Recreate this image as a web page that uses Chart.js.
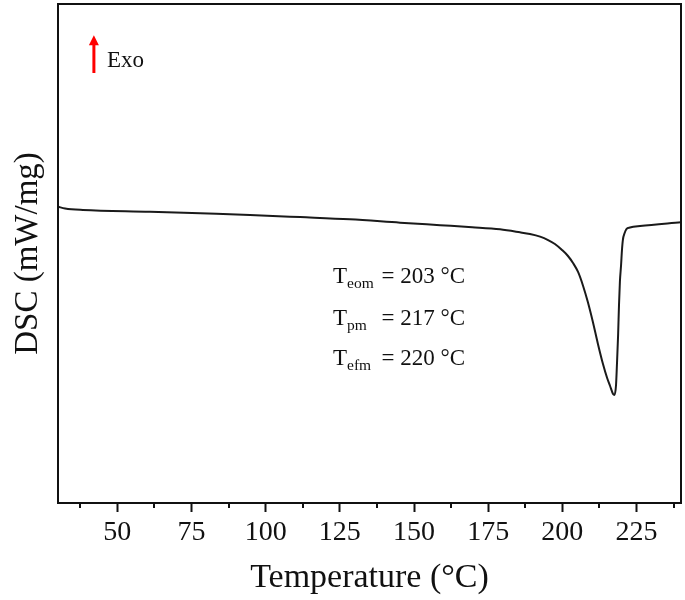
<!DOCTYPE html>
<html>
<head>
<meta charset="utf-8">
<script src="https://cdn.jsdelivr.net/npm/chart.js@4/dist/chart.umd.min.js"></script>
<style>
html,body{margin:0;padding:0;background:#fff;}
#wrap{width:685px;height:600px;}
</style>
</head>
<body>
<div id="wrap"><canvas id="c" width="685" height="600"></canvas></div>
<script>
// Temperature (°C)
const temps = [30, 32.4, 38.4, 61, 77.9, 94.7, 111.6, 128.4, 145.3, 158.8, 169.6, 179, 185.7, 189.1, 192.5, 195.2, 197.5, 199.9, 201.9, 203.6, 205.3, 207.0, 208.6, 210.3, 212.0, 213.7, 215.1, 216.1, 217.1, 217.6, 218.1, 218.4, 218.8, 219.1, 219.4, 219.8, 220.1, 220.4, 221.0, 221.6, 222.8, 226.2, 240];
// DSC heat flow (mW/mg)
const dsc = [-0.625, -0.639, -0.651, -0.665, -0.678, -0.691, -0.708, -0.726, -0.753, -0.773, -0.789, -0.806, -0.830, -0.844, -0.865, -0.892, -0.924, -0.972, -1.020, -1.076, -1.148, -1.260, -1.389, -1.549, -1.725, -1.886, -1.998, -2.062, -2.126, -2.134, -2.054, -1.894, -1.653, -1.413, -1.228, -1.092, -0.972, -0.892, -0.836, -0.804, -0.792, -0.780, -0.750];
const majorTicks = [50, 75, 100, 125, 150, 175, 200, 225];
const minorTicks = [37.5, 62.5, 87.5, 112.5, 137.5, 162.5, 187.5, 212.5, 237.5];
const annotations = [
  {main: 'T', sub: 'eom', rest: '= 203 °C'},
  {main: 'T', sub: 'pm', rest: '= 217 °C'},
  {main: 'T', sub: 'efm', rest: '= 220 °C'}
];
const annotX = 122.7;
const annotY = [-1.237, -1.573, -1.894];
const exoLabel = 'Exo';
const exoArrow = {x: 42.1, yTop: 0.75, yBottom: 0.447};
const exoText = {x: 46.5, y: 0.495};

const SERIF = '"Liberation Serif", "Times New Roman", serif';

const overlay = {
  id: 'overlay',
  afterDraw(chart) {
    const ctx = chart.ctx;
    const a = chart.chartArea;
    const xs = chart.scales.x, ys = chart.scales.y;
    ctx.save();
    // frame
    ctx.strokeStyle = '#111';
    ctx.lineWidth = 2;
    ctx.strokeRect(a.left, a.top, a.right - a.left, a.bottom - a.top);
    // minor ticks
    ctx.beginPath();
    minorTicks.forEach(v => {
      const px = Math.round(xs.getPixelForValue(v));
      ctx.moveTo(px, a.bottom);
      ctx.lineTo(px, a.bottom + 5);
    });
    ctx.stroke();
    // Exo arrow
    const ax = xs.getPixelForValue(exoArrow.x);
    const at = ys.getPixelForValue(exoArrow.yTop);
    const ab = ys.getPixelForValue(exoArrow.yBottom);
    ctx.strokeStyle = '#f00';
    ctx.fillStyle = '#f00';
    ctx.lineWidth = 3;
    ctx.beginPath();
    ctx.moveTo(ax, ab);
    ctx.lineTo(ax, at + 8);
    ctx.stroke();
    ctx.beginPath();
    ctx.moveTo(ax, at);
    ctx.lineTo(ax - 5, at + 10);
    ctx.lineTo(ax + 5, at + 10);
    ctx.closePath();
    ctx.fill();
    ctx.fillStyle = '#111';
    ctx.textBaseline = 'alphabetic';
    ctx.textAlign = 'left';
    ctx.font = '23px ' + SERIF;
    ctx.fillText(exoLabel, xs.getPixelForValue(exoText.x), ys.getPixelForValue(exoText.y));
    // annotations
    const x0 = xs.getPixelForValue(annotX);
    annotations.forEach((an, i) => {
      const by = ys.getPixelForValue(annotY[i]);
      ctx.font = '23px ' + SERIF;
      ctx.fillText(an.main, x0, by);
      const tw = ctx.measureText(an.main).width;
      ctx.font = '15.5px ' + SERIF;
      ctx.fillText(an.sub, x0 + tw, by + 5);
      ctx.font = '23px ' + SERIF;
      ctx.fillText(an.rest, x0 + 48.5, by);
    });
    ctx.restore();
  }
};

new Chart(document.getElementById('c'), {
  type: 'line',
  data: {
    datasets: [{
      data: temps.map((t, i) => ({x: t, y: dsc[i]})),
      borderColor: '#1a1a1a',
      borderWidth: 2,
      pointRadius: 0,
      cubicInterpolationMode: 'monotone',
      fill: false
    }]
  },
  options: {
    responsive: false,
    animation: false,
    layout: {padding: {top: 4, right: 4, left: 0, bottom: 0}},
    plugins: {legend: {display: false}, tooltip: {enabled: false}},
    scales: {
      x: {
        type: 'linear',
        min: 30, max: 240,
        afterBuildTicks: s => { s.ticks = majorTicks.map(v => ({value: v})); },
        afterFit: s => { s.height = 97; },
        grid: {display: true, drawOnChartArea: false, tickLength: 9, tickWidth: 2, tickColor: '#111'},
        border: {display: false},
        ticks: {color: '#111', font: {family: SERIF, size: 28}, padding: 4, maxRotation: 0, autoSkip: false},
        title: {display: true, text: 'Temperature (°C)', color: '#111', font: {family: SERIF, size: 34}, padding: {top: 0, bottom: 2}}
      },
      y: {
        min: -3, max: 1,
        afterFit: s => { s.width = 58; },
        grid: {display: false},
        border: {display: false},
        ticks: {display: false},
        title: {display: true, text: 'DSC (mW/mg)', color: '#111', font: {family: SERIF, size: 33}, padding: {top: 9, bottom: 0}}
      }
    }
  },
  plugins: [overlay]
});
</script>
</body>
</html>
